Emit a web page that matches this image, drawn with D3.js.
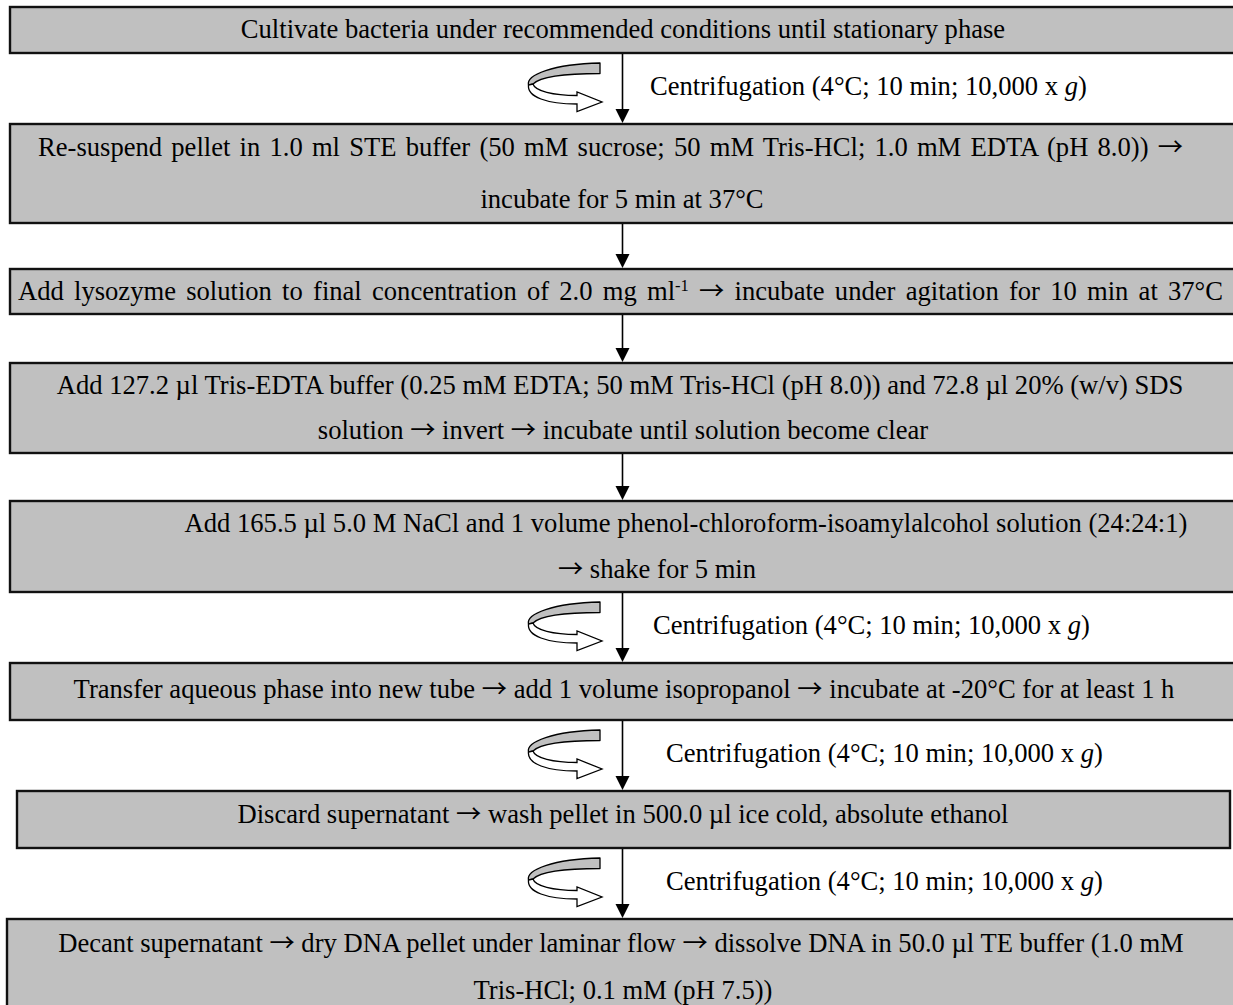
<!DOCTYPE html>
<html>
<head>
<meta charset="utf-8">
<script src="https://cdn.jsdelivr.net/npm/d3@7"></script>
<style>
  html, body { margin: 0; padding: 0; background: #ffffff; }
  svg { display: block; }
  text { font-family: "Liberation Serif", "Times New Roman", serif; fill: #000; }
</style>
</head>
<body>
<svg id="chart" width="1233" height="1005"></svg>
<script>
// ---------- data ----------
// each step: list of lines; each line: list of segments [text, style] (style: "" | "sup" | "it")
const steps = [
  [[["Cultivate bacteria under recommended conditions until stationary phase", ""]]],
  [[["Re-suspend pellet in 1.0 ml STE buffer (50 mM sucrose; 50 mM Tris-HCl; 1.0 mM EDTA (pH 8.0)) \u2192", ""]],
   [["incubate for 5 min at 37\u00B0C", ""]]],
  [[["Add lysozyme solution to final concentration of 2.0 mg ml", ""], ["-1", "sup"], [" \u2192 incubate under agitation for 10 min at 37\u00B0C", ""]]],
  [[["Add 127.2 \u00B5l Tris-EDTA buffer (0.25 mM EDTA; 50 mM Tris-HCl (pH 8.0)) and 72.8 \u00B5l 20% (w/v) SDS", ""]],
   [["solution \u2192 invert \u2192 incubate until solution become clear", ""]]],
  [[["Add 165.5 \u00B5l 5.0 M NaCl and 1 volume phenol-chloroform-isoamylalcohol solution (24:24:1)", ""]],
   [["\u2192 shake for 5 min", ""]]],
  [[["Transfer aqueous phase into new tube \u2192 add 1 volume isopropanol \u2192 incubate at -20\u00B0C for at least 1 h", ""]]],
  [[["Discard supernatant \u2192 wash pellet in 500.0 \u00B5l ice cold, absolute ethanol", ""]]],
  [[["Decant supernatant \u2192 dry DNA pellet under laminar flow \u2192 dissolve DNA in 50.0 \u00B5l TE buffer (1.0 mM", ""]],
   [["Tris-HCl; 0.1 mM (pH 7.5))", ""]]]
];
// connector between step i and i+1: true = centrifugation step
const connectorSpin = [true, false, false, false, true, true, true];
const spinLabel = [["Centrifugation (4\u00B0C; 10 min; 10,000 x ", ""], ["g", "it"], [")", ""]];

// ---------- layout (positions only) ----------
// w: target width for justified lines
const boxLayout = [
  {x0: 10, x1: 1236, y0: 7,   y1: 53,   lines: [{y: 30,  cx: 623}]},
  {x0: 10, x1: 1236, y0: 124, y1: 223,  lines: [{y: 148, cx: 610.5, w: 1145}, {y: 200, cx: 622}]},
  {x0: 10, x1: 1236, y0: 269, y1: 314,  lines: [{y: 292, cx: 620.5, w: 1205}]},
  {x0: 10, x1: 1236, y0: 363, y1: 453,  lines: [{y: 386, cx: 620}, {y: 431, cx: 623}]},
  {x0: 10, x1: 1236, y0: 501, y1: 592,  lines: [{y: 524, cx: 686}, {y: 570, cx: 657}]},
  {x0: 10, x1: 1236, y0: 663, y1: 720,  lines: [{y: 690, cx: 624}]},
  {x0: 17, x1: 1230, y0: 791, y1: 848,  lines: [{y: 815, cx: 623}]},
  {x0: 7,  x1: 1239, y0: 919, y1: 1012, lines: [{y: 944, cx: 621}, {y: 991, cx: 623}]}
];
const labelX = [650, null, null, null, 653, 666, 666];
const arrowX = 622.5;
const fontSize = 26.6;

const svg = d3.select("#chart");

// ---------- boxes ----------
const boxes = svg.selectAll("g.step").data(steps).join("g").attr("class", "step");
boxes.append("rect")
  .attr("x", (d, i) => boxLayout[i].x0)
  .attr("y", (d, i) => boxLayout[i].y0)
  .attr("width", (d, i) => boxLayout[i].x1 - boxLayout[i].x0)
  .attr("height", (d, i) => boxLayout[i].y1 - boxLayout[i].y0)
  .attr("fill", "#c0c0c0")
  .attr("stroke", "#111")
  .attr("stroke-width", 2.4);

// split "→" into its own segments so it can use a wide, thin arrow glyph
function expand(segs) {
  const out = [];
  segs.forEach(s => {
    const parts = s[0].split("\u2192");
    parts.forEach((p, k) => {
      if (k > 0) out.push(["\u2192", "arrow"]);
      if (p.length) out.push([p, s[1]]);
    });
  });
  return out;
}

function writeSegments(sel, segs, size) {
  sel.selectAll("tspan").data(expand(segs)).join("tspan")
    .text(s => s[0])
    .attr("font-style", s => s[1] === "it" ? "italic" : null)
    .attr("font-family", s => s[1] === "arrow" ? "'Noto Sans CJK JP', 'DejaVu Sans', sans-serif" : null)
    .attr("font-size", s => s[1] === "sup" ? size * 0.62 : (s[1] === "arrow" ? size * 0.95 : null))
    .attr("baseline-shift", s => s[1] === "sup" ? "super" : null);
}

boxes.each(function (lines, i) {
  const g = d3.select(this);
  g.selectAll("text").data(lines).join("text")
    .attr("x", (l, j) => boxLayout[i].lines[j].cx)
    .attr("y", (l, j) => boxLayout[i].lines[j].y + 8)
    .attr("text-anchor", "middle")
    .attr("font-size", fontSize)
    .each(function (l, j) {
      const t = d3.select(this);
      writeSegments(t, l, fontSize);
      const target = boxLayout[i].lines[j].w;
      if (target) {
        const natural = this.getComputedTextLength();
        const full = l.map(s => s[0]).join("");
        const spaces = (full.match(/ /g) || []).length;
        if (spaces > 0 && target > natural) {
          t.attr("word-spacing", (target - natural) / spaces);
        }
      }
    });
});

// ---------- connectors ----------
const conns = svg.selectAll("g.conn").data(connectorSpin).join("g").attr("class", "conn");
conns.append("line")
  .attr("x1", arrowX).attr("x2", arrowX)
  .attr("y1", (d, i) => boxLayout[i].y1 + 1)
  .attr("y2", (d, i) => boxLayout[i + 1].y0 - 12)
  .attr("stroke", "#000").attr("stroke-width", 1.6);
conns.append("path")
  .attr("d", (d, i) => {
    const ty = boxLayout[i + 1].y0 - 1;
    return `M${arrowX},${ty} L${arrowX - 7},${ty - 14} L${arrowX + 7},${ty - 14} Z`;
  })
  .attr("fill", "#000");

// centrifuge icons + labels
conns.each(function (d, i) {
  if (!d) return;
  const top = boxLayout[i].y1 + 10;
  const g = d3.select(this).append("g").attr("transform", `translate(527,${top})`);
  // back (gray) band
  g.append("path")
    .attr("d", "M73,0 L73,10.5 C45,10.5 14,13 6,21 L1.5,22 C-1,12 26,1 73,0 Z")
    .attr("fill", "#c0c0c0").attr("stroke", "#000").attr("stroke-width", 1.3)
    .attr("stroke-linejoin", "round");
  // front (white) band with arrow head
  g.append("path")
    .attr("d", "M1.5,22 C0,34 20,41 50,41 L50,48.5 L75,39 L50,29 L50,32.5 C26,32.5 8,28 6,21 Z")
    .attr("fill", "#fff").attr("stroke", "#000").attr("stroke-width", 1.3)
    .attr("stroke-linejoin", "miter");
  const t = d3.select(this).append("text")
    .attr("x", labelX[i])
    .attr("y", top + 24 + 8)
    .attr("font-size", fontSize);
  writeSegments(t, spinLabel, fontSize);
});
</script>
</body>
</html>
